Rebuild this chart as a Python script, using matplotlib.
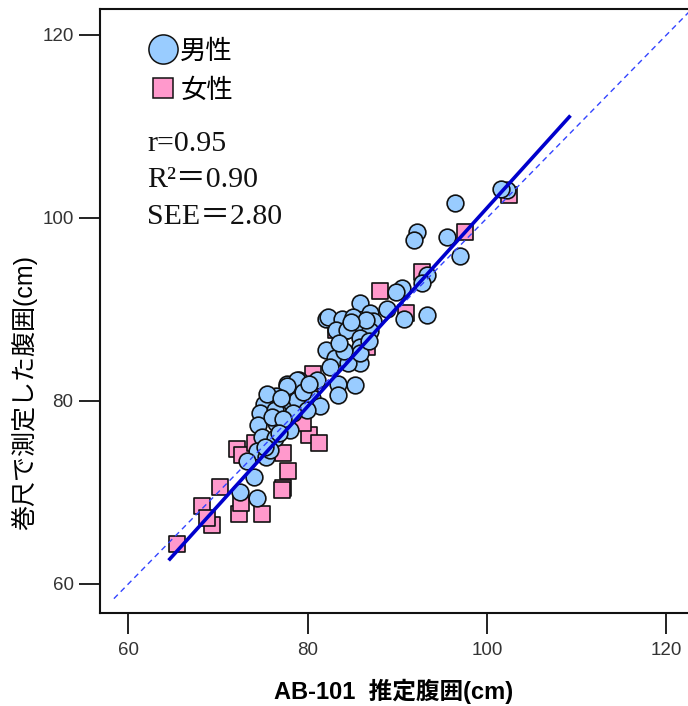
import matplotlib
matplotlib.use("Agg")
import matplotlib.pyplot as plt
from matplotlib.lines import Line2D
import numpy as np

# ---------------- data ----------------
male_x = [102.2, 101.6, 96.4, 92.2, 91.8, 95.5, 97.0, 93.3, 92.7, 90.5, 89.9, 93.3, 90.7, 88.8, 85.8,
          82.1, 82.3, 83.8, 85.1, 87.0, 87.3, 84.0, 85.8, 87.0, 83.2, 84.35, 85.8, 82.0, 83.1, 85.8,
          85.8, 84.5, 82.5, 85.8, 84.0,
          79.0, 77.7, 81.0, 83.4, 85.3, 83.4, 78.8, 77.7, 76.5, 75.1, 74.7, 76.4, 78.2, 78.8, 80.45,
          81.4, 79.9, 78.4, 76.5, 74.5, 78.0, 74.9, 76.4, 74.3, 75.4, 73.2, 74.0, 72.5, 74.3, 75.8,
          76.0, 77.2, 75.5, 77.0, 79.5, 80.2, 76.8, 75.2, 86.5, 84.8, 83.5, 86.8]
male_y = [103.1, 103.2, 101.6, 98.5, 97.6, 97.9, 95.8, 93.8, 92.9, 92.3, 91.9, 89.4, 89.0, 90.1, 90.7,
          89.0, 89.2, 89.0, 89.2, 89.6, 88.7, 87.6, 88.1, 87.6, 87.8, 87.8, 86.9, 85.6, 84.7, 85.9,
          84.1, 84.1, 83.7, 85.2, 85.5,
          82.3, 81.9, 82.3, 81.9, 81.7, 80.7, 82.3, 81.6, 80.5, 79.7, 78.7, 79.0, 79.7, 80.1, 80.3,
          79.4, 79.0, 78.7, 77.6, 77.4, 76.8, 76.1, 75.9, 74.5, 73.9, 73.4, 71.7, 70.1, 69.4, 74.6,
          78.2, 78.0, 80.8, 80.3, 81.0, 81.8, 76.5, 75.0, 88.8, 88.6, 86.3, 86.6]

female_x = [65.4, 68.2, 69.3, 70.2, 72.3, 74.9, 72.1, 72.65, 74.1, 77.3, 77.8, 77.3, 77.1, 80.1,
            81.3, 79.5, 80.6, 80.3, 86.6, 88.1, 91.0, 92.8, 97.5, 102.4, 83.2, 68.8, 72.6]
female_y = [64.4, 68.5, 66.4, 70.6, 67.7, 67.7, 74.8, 74.1, 75.4, 74.3, 72.3, 70.5, 70.3, 76.3,
            75.4, 77.6, 82.9, 80.8, 85.9, 92.0, 89.6, 94.1, 98.5, 102.5, 87.8, 67.2, 68.8]

# regression fit and identity line
reg_slope = 1.085
reg_intercept = -7.4
reg_range = [64.5, 109.3]
ident_range = [58.4, 124.0]

xticks = [60, 80, 100, 120]
yticks = [60, 80, 100, 120]
stats_lines = ["r=0.95", "R²＝0.90", "SEE＝2.80"]
legend_labels = ["男性", "女性"]
xlabel = "AB-101  推定腹囲(cm)"
ylabel = "巻尺で測定した腹囲(cm)"

# ---------------- figure ----------------
W, H = 688, 706
fig = plt.figure(figsize=(W / 100, H / 100), dpi=100)
ax = fig.add_axes([100 / W, (H - 613) / H, 588 / W, 603.7 / H])
ax.set_xlim(56.85, 122.4)
ax.set_ylim(56.83, 122.8)

blue_fill = "#99CCFF"
pink_fill = "#FF99CC"

ax.scatter(female_x, female_y, marker="s", s=120, facecolor=pink_fill,
           edgecolor="#111111", linewidth=1.2, zorder=2)
ax.scatter(male_x, male_y, marker="o", s=145, facecolor=blue_fill,
           edgecolor="#111111", linewidth=1.2, zorder=3)

ix = np.array(ident_range)
ax.plot(ix, ix, color="#3344FF", linewidth=1.0, linestyle=(0, (4, 3)), zorder=4)
rx = np.array(reg_range)
ax.plot(rx, reg_slope * rx + reg_intercept, color="#0000CC", linewidth=2.6, zorder=5,
        solid_capstyle="butt")

# spines / ticks
for side in ["left", "bottom", "top"]:
    ax.spines[side].set_linewidth(1.5)
    ax.spines[side].set_color("#111111")
ax.spines["right"].set_visible(False)
ax.set_xticks(xticks)
ax.set_yticks(yticks)
ax.tick_params(axis="both", direction="out", length=15, width=1.3, color="#111111",
               labelsize=13.5, labelcolor="#333333")
ax.tick_params(axis="x", pad=6)
ax.tick_params(axis="y", pad=4)
for lab in ax.get_xticklabels() + ax.get_yticklabels():
    lab.set_family(["Liberation Sans", "DejaVu Sans"])

ax.set_xlabel(xlabel, fontsize=17, fontweight="bold",
              family=["Liberation Sans", "Noto Sans CJK JP"], labelpad=14)
ax.set_ylabel(ylabel, fontsize=18,
              family=["Liberation Sans", "Noto Sans CJK JP"])
ax.yaxis.set_label_coords((37 - 100) / 588, (613 - 392) / 603.7)

# legend
handles = [
    Line2D([], [], marker="o", linestyle="none", markersize=21, markerfacecolor=blue_fill,
           markeredgecolor="#111111", markeredgewidth=1.1),
    Line2D([], [], marker="s", linestyle="none", markersize=14, markerfacecolor=pink_fill,
           markeredgecolor="#111111", markeredgewidth=1.1),
]
leg = ax.legend(handles, legend_labels, loc="upper left", bbox_to_anchor=(0.058, 0.975),
                frameon=False, handletextpad=0.05, labelspacing=0.45, borderpad=0,
                handlelength=1.2, prop={"family": ["Noto Sans CJK JP"], "size": 19})

# statistics text
stat_y_px = [144, 180, 217]
for txt, ypx in zip(stats_lines, stat_y_px):
    ax.text((147 - 100) / 588, (613 - ypx) / 603.7, txt, transform=ax.transAxes,
            ha="left", va="center", fontsize=21.5,
            family=["Liberation Serif", "Noto Sans CJK JP"], color="#111111")

fig.savefig("out.png", dpi=100)
